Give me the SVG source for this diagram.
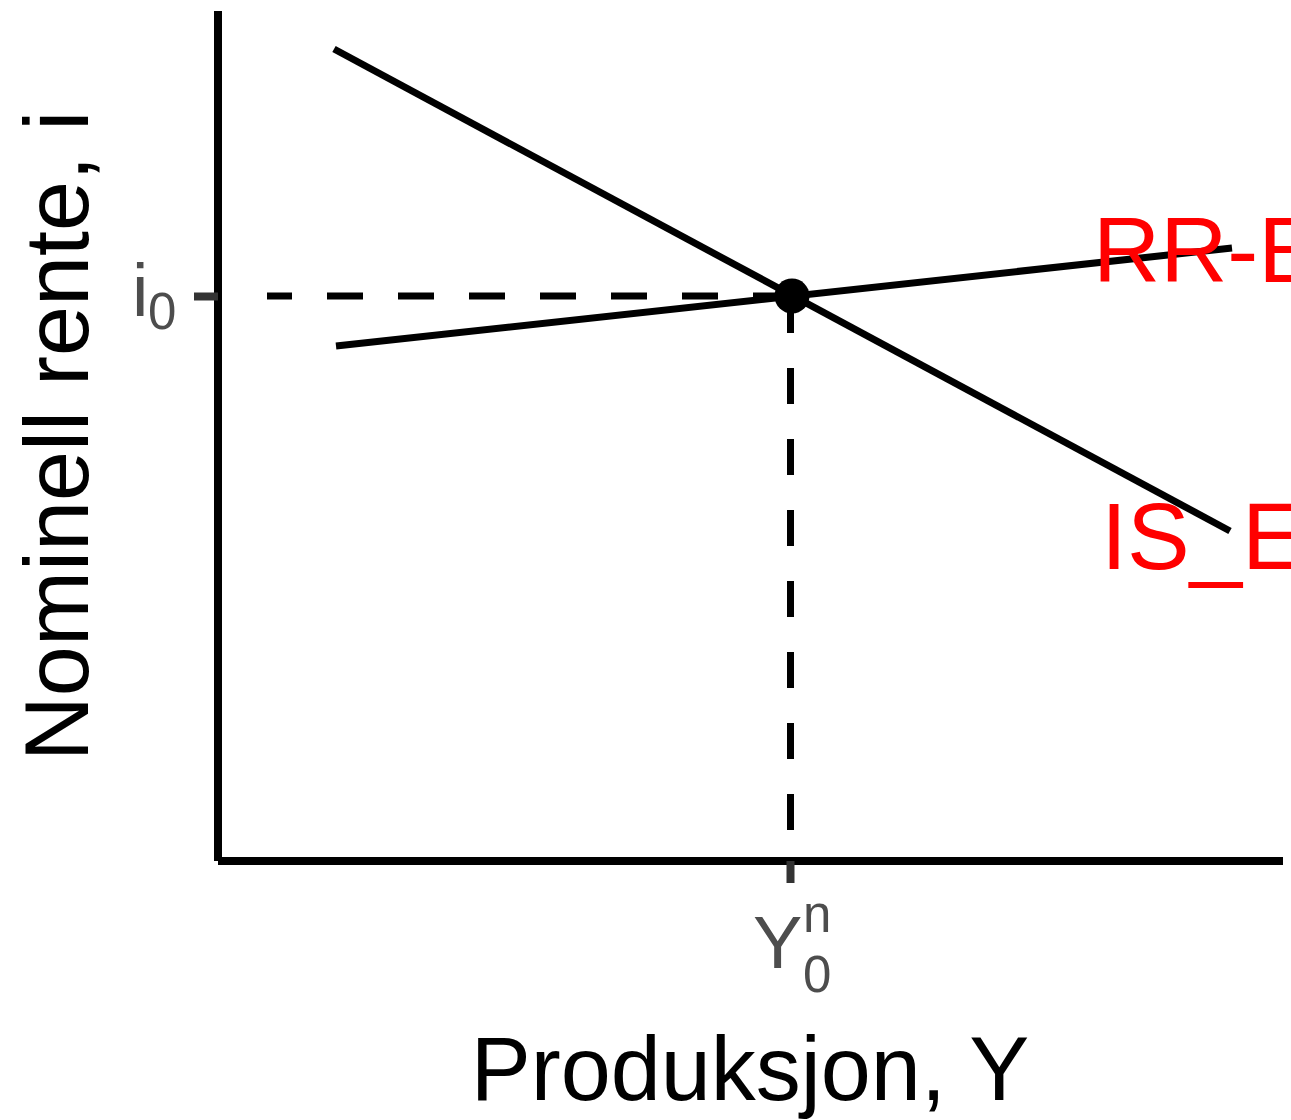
<svg xmlns="http://www.w3.org/2000/svg" width="1291" height="1120" viewBox="0 0 1291 1120">
<style>
.axis{stroke:#000;stroke-width:8;stroke-linecap:butt;fill:none}
.tick{stroke:#333;stroke-width:8;stroke-linecap:butt}
.curve{stroke:#000;stroke-width:7;stroke-linecap:butt;fill:none}
.guide{stroke:#000;stroke-width:7;stroke-dasharray:36 35;fill:none}
.ticklab{font-family:"Liberation Sans",Arial,sans-serif;fill:#4d4d4d}
.title{font-family:"Liberation Sans",Arial,sans-serif;font-size:90px;fill:#000}
.lab{font-family:"Liberation Sans",Arial,sans-serif;font-size:93px;fill:#ff0000}
</style>
<rect width="1291" height="1120" fill="#fff"/>
<g id="axes">
<line class="axis" x1="218" y1="11" x2="218" y2="861"/>
<line class="axis" x1="218" y1="861" x2="1283" y2="861"/>
<line class="tick" x1="194" y1="296.5" x2="218" y2="296.5"/>
<line class="tick" x1="790.5" y1="861" x2="790.5" y2="883"/>
</g>
<g id="connectors">
<line class="guide" x1="267" y1="296" x2="792" y2="296" stroke-dashoffset="11"/>
<line class="guide" x1="790.5" y1="297" x2="790.5" y2="861"/>
<line id="is-curve" class="curve" x1="334" y1="49" x2="1230" y2="531"/>
<line id="rr-curve" class="curve" x1="336" y1="346" x2="1232" y2="248"/>
</g>
<g id="equilibrium">
<circle cx="792" cy="296" r="17.5" fill="#000"/>
</g>
<g id="tick-i0" class="ticklab">
<text x="132" y="316" font-size="74">i</text>
<text x="148" y="329" font-size="51">0</text>
</g>
<g id="tick-y0n" class="ticklab">
<text x="753" y="968" font-size="74">Y</text>
<text x="803" y="932" font-size="51">n</text>
<text x="803" y="992" font-size="51">0</text>
</g>
<g id="label-rr">
<text class="lab" x="1093" y="282">RR-E</text>
</g>
<g id="label-is">
<text class="lab" x="1101" y="569" style="font-size:94px">IS_E</text>
</g>
<g id="x-title">
<text class="title" x="750" y="1100" text-anchor="middle">Produksjon, Y</text>
</g>
<g id="y-title">
<text class="title" transform="translate(88,436) rotate(-90)" text-anchor="middle">Nominell rente, i</text>
</g>
</svg>
